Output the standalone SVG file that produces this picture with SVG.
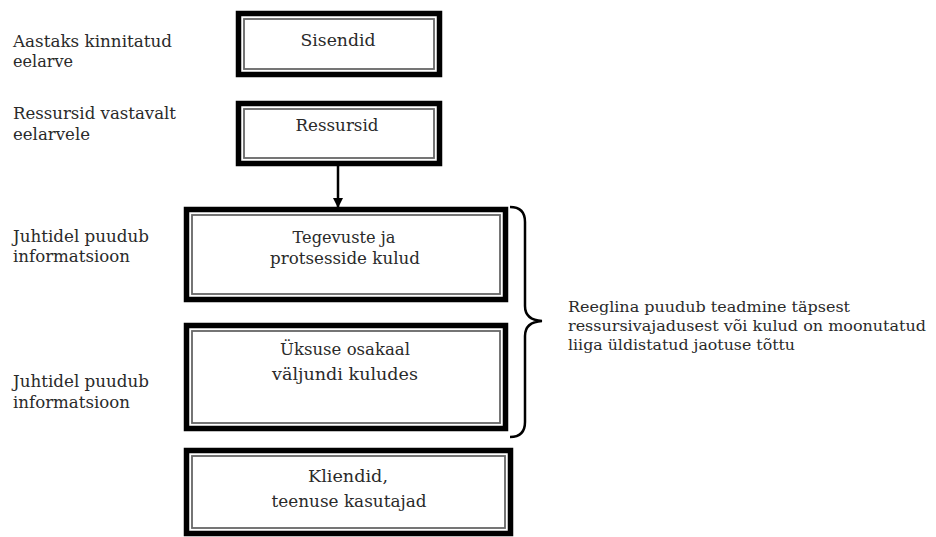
<svg xmlns="http://www.w3.org/2000/svg" width="936" height="537" viewBox="0 0 936 537">
<style>
.t{font-family:"DejaVu Serif","Liberation Serif",serif;font-size:17px;fill:#2a2a2a}
.n{font-size:14.5px}
.c{text-anchor:middle}
.o{fill:#fff;stroke:#000;stroke-width:5.5}
.i{fill:none;stroke:#666;stroke-width:1.8}
.br{fill:none;stroke:#000;stroke-width:2.5}
</style>
<defs>
<marker id="ah" markerWidth="10" markerHeight="10" refX="9" refY="5" orient="auto" markerUnits="userSpaceOnUse">
<path d="M0,0 L10,5 L0,10 Z" fill="#000"/>
</marker>
</defs>
<rect width="936" height="537" fill="#fff"/>

<g id="labels">
<text class="t" x="13" y="47" textLength="159" lengthAdjust="spacingAndGlyphs">Aastaks kinnitatud</text>
<text class="t" x="13" y="67" textLength="60" lengthAdjust="spacingAndGlyphs">eelarve</text>
<text class="t" x="13" y="119" textLength="163" lengthAdjust="spacingAndGlyphs">Ressursid vastavalt</text>
<text class="t" x="13" y="140" textLength="77" lengthAdjust="spacingAndGlyphs">eelarvele</text>
<text class="t" x="13" y="242" textLength="136" lengthAdjust="spacingAndGlyphs">Juhtidel puudub</text>
<text class="t" x="13" y="262" textLength="117" lengthAdjust="spacingAndGlyphs">informatsioon</text>
<text class="t" x="13" y="387" textLength="136" lengthAdjust="spacingAndGlyphs">Juhtidel puudub</text>
<text class="t" x="13" y="408" textLength="117" lengthAdjust="spacingAndGlyphs">informatsioon</text>
</g>

<g id="sisendid">
<rect class="o" x="238.5" y="13.5" width="201" height="61"/>
<rect class="i" x="244" y="19" width="190" height="50"/>
<text class="t c" x="338" y="46" textLength="75" lengthAdjust="spacingAndGlyphs">Sisendid</text>
</g>

<g id="ressursid">
<rect class="o" x="238.5" y="103.5" width="201" height="60"/>
<rect class="i" x="244" y="109" width="190" height="49"/>
<text class="t c" x="337" y="131" textLength="83" lengthAdjust="spacingAndGlyphs">Ressursid</text>
</g>

<g id="tegevuste">
<rect class="o" x="186.5" y="209.5" width="319" height="90"/>
<rect class="i" x="192" y="215" width="308" height="79"/>
<text class="t c" x="344" y="243" textLength="103" lengthAdjust="spacingAndGlyphs">Tegevuste ja</text>
<text class="t c" x="345" y="264" textLength="150" lengthAdjust="spacingAndGlyphs">protsesside kulud</text>
</g>

<g id="uksuse">
<rect class="o" x="186.5" y="325.5" width="319" height="103"/>
<rect class="i" x="192" y="331" width="308" height="92"/>
<text class="t c" x="345" y="355" textLength="130" lengthAdjust="spacingAndGlyphs">Üksuse osakaal</text>
<text class="t c" x="345" y="380" textLength="146" lengthAdjust="spacingAndGlyphs">väljundi kuludes</text>
</g>

<g id="kliendid">
<rect class="o" x="186.5" y="450.5" width="324" height="83"/>
<rect class="i" x="192" y="456" width="313" height="72"/>
<text class="t c" x="348" y="482" textLength="80" lengthAdjust="spacingAndGlyphs">Kliendid,</text>
<text class="t c" x="349" y="507" textLength="155" lengthAdjust="spacingAndGlyphs">teenuse kasutajad</text>
</g>

<g id="note">
<text class="t n" x="568" y="312" textLength="282" lengthAdjust="spacingAndGlyphs">Reeglina puudub teadmine täpsest</text>
<text class="t n" x="568" y="331" textLength="358" lengthAdjust="spacingAndGlyphs">ressursivajadusest või kulud on moonutatud</text>
<text class="t n" x="568" y="350" textLength="227" lengthAdjust="spacingAndGlyphs">liiga üldistatud jaotuse tõttu</text>
</g>

<g id="connectors">
<line x1="338" y1="166" x2="338" y2="207" stroke="#000" stroke-width="2.5" marker-end="url(#ah)"/>
<path class="br" d="M510,207 Q525,207 525,222 L525,306 Q525,320 542,321 Q525,322 525,336 L525,422 Q525,437 510,437"/>
</g>
</svg>
